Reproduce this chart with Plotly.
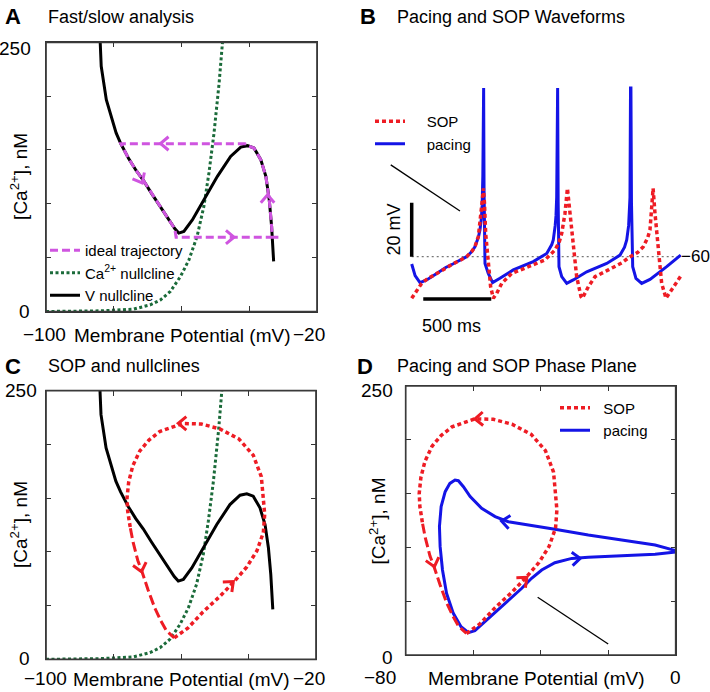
import math
import plotly.graph_objects as go

# ------------------------------------------------------------------ data
# V nullcline (panels A and C)  [mV, nM]
vnull_V = [-84.0, -83.7, -82.2, -80.7, -79.3, -77.9, -75.6, -73.4, -71.2, -68.7, -66.2, -63.8,
           -62.0, -60.8, -59.3, -56.8, -53.4, -49.4, -45.5, -42.5, -40.5, -38.6, -36.6, -35.1,
           -34.1, -33.4, -32.8]
vnull_Ca = [250, 227.7, 196.7, 181.3, 165.8, 155.8, 142, 131, 121.5, 109, 97.5, 85.5,
            77, 72.8, 74.3, 85, 103.8, 125.5, 144, 152.7, 154, 151.8, 141, 125.5,
            103.8, 79, 46.5]

# Ca2+ nullcline (panels A and C)
canull_V = [-100, -84, -74.1, -69.2, -66.2, -63.3, -60.3, -57.8, -55.4, -53.4, -51.9, -50.4, -48.9, -47.9]
canull_Ca = [0, 0.6, 2.2, 6.2, 10.8, 18.6, 32.5, 48, 69.7, 97.6, 128.6, 165.7, 212, 250]

# ideal fast/slow trajectory (panel A)
ideal_V = [-41.0, -77.9, -75.6, -73.4, -71.2, -68.7, -66.2, -63.8, -62.0, -61.6, -31.4, -33.2,
           -33.4, -34.1, -35.1, -36.6, -38.6, -40.5, -41.0]
ideal_Ca = [155.8, 155.8, 142, 131, 121.5, 109, 97.5, 85.5, 77, 69.0, 69.0, 69.0,
            79, 103.8, 125.5, 141, 151.8, 154, 155.8]

# SOP phase-plane loop (panels C and D)
sop_V = [-62.0, -58.0, -53.5, -48.5, -44.3, -40.5, -37.5, -35.6, -35.2, -35.6, -36.2, -38.6,
         -42.8, -48.5, -54.0, -59.5, -66.3, -69.5, -72.2, -74.3, -75.5, -76.0, -75.8, -75.0,
         -74.2, -72.8, -71.6, -69.8, -67.8, -66.0, -64.3, -62.0]
sop_Ca = [20.0, 29.0, 44.0, 58.5, 72.2, 86.0, 101.0, 118.0, 135.0, 152.0, 170.0, 190.0,
          205.0, 214.5, 219.0, 219.5, 212.0, 204.0, 194.0, 180.0, 165.0, 150.0, 138.0, 122.0,
          109.0, 92.0, 82.0, 65.0, 48.0, 36.0, 26.5, 20.0]
sop_fast_from = 23   # index where the fast (long-dash) down-stroke starts

# pacing phase-plane loop (panel D)
pace_V = [0.0, -6.1, -16.0, -25.9, -35.8, -43.7, -49.6, -53.5, -57.5, -60.9, -62.9, -64.4,
          -65.4, -66.9, -68.3, -69.5, -70.0, -69.8, -69.1, -67.9, -65.9, -63.6, -61.4, -59.5,
          -55.5, -50.6, -45.6, -42.7, -39.7, -35.8, -30.8, -25.9, -16.0, -6.1, 0.0]
pace_Ca = [97.0, 102.2, 106.9, 111.5, 116.8, 120.8, 123.9, 128.6, 136.3, 147.2, 156.4, 162.0,
           162.6, 159.5, 151.8, 137.9, 119.3, 100.7, 79.0, 57.3, 38.7, 26.3, 20.8, 22.6,
           34.1, 48.0, 62.0, 71.3, 79.0, 85.8, 89.8, 90.8, 92.0, 93.6, 95.7]

# waveforms (panel B)  time [ms], membrane potential [mV]
pace_t = [0, 25, 61, 110, 184, 250, 306, 360, 404, 440, 465, 490, 502, 512, 518, 523, 526, 529,
          532, 539, 563, 595, 649, 747, 894, 993, 1030, 1041, 1055, 1061, 1066, 1070, 1073, 1077,
          1083, 1103, 1140, 1188, 1287, 1434, 1532, 1565, 1581, 1595, 1600, 1605, 1609, 1612,
          1616, 1625, 1649, 1691, 1752, 1875, 1978]
pace_mV = [-62.7, -67.0, -69.6, -68.6, -66.2, -64.0, -62.6, -61.2, -60.0, -58.2, -56.3, -52.8,
           -50.1, -46.0, -41.0, -30.0, 2.5, 2.5, -35.0, -62.5, -66.2, -69.6, -68.0, -64.9, -61.8,
           -58.8, -55.5, -53.8, -48.5, -44.8, -38.0, 2.5, 2.5, -40.0, -63.7, -67.4, -69.9, -68.6,
           -65.6, -62.5, -59.4, -56.5, -53.8, -48.5, -44.8, -38.0, 2.5, 2.5, -40.0, -63.7, -68.0,
           -69.9, -68.4, -63.7, -59.4]
sop_t = [0, 40, 73, 110, 184, 250, 306, 360, 404, 440, 465, 490, 505, 515, 527, 535, 544, 564,
         580, 600, 625, 662, 735, 858, 980, 1054, 1085, 1103, 1127, 1145, 1164, 1189, 1213, 1245,
         1255, 1299, 1348, 1446, 1544, 1600, 1660, 1703, 1735, 1752, 1765, 1775, 1789, 1814,
         1838, 1870, 1912, 1978]
sop_mV = [-75.4, -72.5, -69.9, -68.4, -66.2, -64.0, -62.6, -61.2, -60.0, -58.2, -56.3, -52.5,
          -47.0, -41.0, -34.7, -40.0, -51.4, -63.7, -71.0, -75.4, -73.6, -69.9, -66.2, -63.7,
          -61.2, -57.5, -54.5, -51.4, -44.0, -34.7, -44.0, -57.5, -67.4, -74.8, -75.4, -71.1,
          -67.4, -64.9, -62.3, -60.2, -58.5, -56.3, -53.0, -50.1, -42.0, -34.7, -44.0, -57.5,
          -69.9, -75.4, -72.3, -67.2]
ref_level_mV = -60
ref_t_end = 1975
scalebar_mV = 20      # vertical scale bar
scalebar_ms = 500     # horizontal scale bar
scalebar_t0 = 85
scalebar_V0 = -75.7

# direction chevrons: position and screen direction (deg, y up)
arrA_V, arrA_Ca, arrA_dir = [-66.2, -71.6, -44.5, -34.6], [156.0, 119.5, 69.0, 108.4], [180, -62, 0, 90]
arrC_V, arrC_Ca, arrC_dir = [-60.8, -71.7, -44.5], [219.6, 81.6, 72.3], [180, -76, 42]
arrDs_V, arrDs_Ca, arrDs_dir = [-59.5, -71.5, -44.1], [219.3, 82.1, 72.2], [182, -75, 42]
arrDp_V, arrDp_Ca, arrDp_dir = [-51.6, -28.3], [124.5, 89.8], [172, 4]

# pointer lines present in the original artwork
ptrB_t, ptrB_mV = [-154, 355], [-26.0, -43.1]
ptrD_V, ptrD_Ca = [-40.9, -20.0], [53.6, 10.2]

# ------------------------------------------------------------------ style / layout
W, H = 710, 692
FONT = "Liberation Sans, Arial, Helvetica, sans-serif"
RED, BLUE, GREEN, MAG = "#ee1c24", "#1414e6", "#1b6b3a", "#cf55e0"
AX = "#333333"
NB = "\u00a0"

P = {  # pixel boxes: x0, x1, y0(top), y1(bottom)
    "A": (46, 317, 42.3, 311.5),
    "B": (377.7, 704.1, 81.2, 310.7),
    "C": (46, 316, 390.7, 659.3),
    "D": (405.7, 675.7, 386, 655),
}
RANGES = {
    "A": ([-100, -20], [0, 250]),
    "B": ([-250, 2150], [-80, 5]),
    "C": ([-100, -20], [0, 250]),
    "D": ([-80, 0], [0, 250]),
}
AXN = {"A": "", "B": "2", "C": "3", "D": "4"}


def dom(p):
    x0, x1, y0, y1 = P[p]
    return [x0 / W, x1 / W], [1 - y1 / H, 1 - y0 / H]


def chevrons(p, xs, ys, dirs, L=10.5, half=40):
    x0, x1, y0, y1 = P[p]
    (xa, xb), (ya, yb) = RANGES[p]
    sx = (x1 - x0) / (xb - xa)
    sy = (y1 - y0) / (yb - ya)
    X, Y = [], []
    for x, y, d in zip(xs, ys, dirs):
        a1 = math.radians(d + 180 - half)
        a2 = math.radians(d + 180 + half)
        X += [x + L * math.cos(a1) / sx, x, x + L * math.cos(a2) / sx, None]
        Y += [y + L * math.sin(a1) / sy, y, y + L * math.sin(a2) / sy, None]
    return X, Y


fig = go.Figure()


def add(p, **kw):
    n = AXN[p]
    fig.add_trace(go.Scatter(xaxis="x" + n, yaxis="y" + n, mode="lines", **kw))


# ---- panel A
add("A", x=canull_V, y=canull_Ca, name="Ca<sup>2+</sup> nullcline", legend="legend", legendrank=2,
    line=dict(color=GREEN, width=3, dash="3px,2.5px"))
add("A", x=vnull_V, y=vnull_Ca, name="V nullcline", legend="legend", legendrank=3,
    line=dict(color="black", width=3))
add("A", x=ideal_V, y=ideal_Ca, name="ideal trajectory", legend="legend", legendrank=1,
    line=dict(color=MAG, width=3, dash="8px,4px"))
cx, cy = chevrons("A", arrA_V, arrA_Ca, arrA_dir)
add("A", x=cx, y=cy, showlegend=False, line=dict(color=MAG, width=3))

# ---- panel B
add("B", x=[0, ref_t_end], y=[ref_level_mV, ref_level_mV], showlegend=False,
    line=dict(color="#777777", width=1.3, dash="2px,3px"))
add("B", x=ptrB_t, y=ptrB_mV, showlegend=False, line=dict(color="black", width=1.3))
add("B", x=[0, 0], y=[ref_level_mV, ref_level_mV + scalebar_mV], showlegend=False,
    line=dict(color="black", width=3.5))
add("B", x=[scalebar_t0, scalebar_t0 + scalebar_ms], y=[scalebar_V0, scalebar_V0], showlegend=False,
    line=dict(color="black", width=3.5))
add("B", x=pace_t, y=pace_mV, name=NB * 4 + "pacing", legend="legend2", legendrank=2,
    line=dict(color=BLUE, width=3))
add("B", x=sop_t, y=sop_mV, name=NB * 4 + "SOP", legend="legend2", legendrank=1,
    line=dict(color=RED, width=3.5, dash="4px,3px"))

# ---- panel C
add("C", x=canull_V, y=canull_Ca, showlegend=False, line=dict(color=GREEN, width=3, dash="3px,2.5px"))
add("C", x=vnull_V, y=vnull_Ca, showlegend=False, line=dict(color="black", width=3))
add("C", x=sop_V[:sop_fast_from + 1], y=sop_Ca[:sop_fast_from + 1], showlegend=False,
    line=dict(color=RED, width=3.5, dash="4px,3px"))
add("C", x=sop_V[sop_fast_from:], y=sop_Ca[sop_fast_from:], showlegend=False,
    line=dict(color=RED, width=3, dash="10px,4px"))
cx, cy = chevrons("C", arrC_V, arrC_Ca, arrC_dir)
add("C", x=cx, y=cy, showlegend=False, line=dict(color=RED, width=3))

# ---- panel D
add("D", x=ptrD_V, y=ptrD_Ca, showlegend=False, line=dict(color="black", width=1.3))
add("D", x=pace_V, y=pace_Ca, name=NB * 2 + "pacing", legend="legend3", legendrank=2,
    line=dict(color=BLUE, width=3))
add("D", x=sop_V[:sop_fast_from + 1], y=sop_Ca[:sop_fast_from + 1], name=NB * 2 + "SOP",
    legend="legend3", legendrank=1, line=dict(color=RED, width=3.5, dash="4px,3px"))
add("D", x=sop_V[sop_fast_from:], y=sop_Ca[sop_fast_from:], showlegend=False,
    line=dict(color=RED, width=3, dash="10px,4px"))
cx, cy = chevrons("D", arrDp_V, arrDp_Ca, arrDp_dir)
add("D", x=cx, y=cy, showlegend=False, line=dict(color=BLUE, width=3))
cx, cy = chevrons("D", arrDs_V, arrDs_Ca, arrDs_dir)
add("D", x=cx, y=cy, showlegend=False, line=dict(color=RED, width=3))

# ---- axes
lay = {}
shapes = []
ticks = {"A": ([-80, -60, -40], [50, 100, 150, 200]),
         "C": ([-80, -60, -40], [50, 100, 150, 200]),
         "D": ([-60, -40, -20], [50, 100, 150, 200])}
for p in "ABCD":
    n = AXN[p]
    dx, dy = dom(p)
    xr, yr = RANGES[p]
    common = dict(showgrid=False, zeroline=False, showticklabels=False, fixedrange=True)
    if p == "B":
        lay["xaxis" + n] = dict(domain=dx, range=xr, visible=False, anchor="y" + n, **common)
        lay["yaxis" + n] = dict(domain=dy, range=yr, visible=False, anchor="x" + n, **common)
    else:
        st = dict(showline=True, linecolor=AX, linewidth=1.3, mirror="ticks", ticks="inside",
                  ticklen=5, tickwidth=1.3, tickcolor=AX, **common)
        lay["xaxis" + n] = dict(domain=dx, range=xr, tickvals=ticks[p][0], anchor="y" + n, **st)
        lay["yaxis" + n] = dict(domain=dy, range=yr, tickvals=ticks[p][1], anchor="x" + n, **st)
        # explicit frame in paper coordinates (same place as the axis lines)
        shapes.append(dict(type="rect", xref="paper", yref="paper",
                           x0=dx[0], x1=dx[1], y0=dy[0], y1=dy[1],
                           line=dict(color="#3a3a3a", width=1.7),
                           fillcolor="rgba(0,0,0,0)", layer="above"))

ann = []


def text(t, x, y, size=19, xref="paper", yref="paper", xanchor="center", yanchor="middle",
         xshift=0, yshift=0, angle=0, bold=False):
    if bold:
        t = "<b>" + t + "</b>"
    ann.append(dict(text=t, x=x, y=y, xref=xref, yref=yref, xanchor=xanchor, yanchor=yanchor,
                    xshift=xshift, yshift=yshift, textangle=angle, showarrow=False,
                    font=dict(family=FONT, size=size, color="black")))


def px(xp, yp):
    return xp / W, 1 - yp / H


# panel letters & titles
for letter, lx, tx, ty, title in [("A", 3, 46, 17, "Fast/slow analysis"),
                                  ("B", 358, 395, 17, "Pacing and SOP Waveforms"),
                                  ("C", 3, 46, 366, "SOP and nullclines"),
                                  ("D", 355, 395, 366, "Pacing and SOP Phase Plane")]:
    text(letter, *px(lx, ty), size=22, xanchor="left", bold=True)
    text(title, *px(tx, ty), size=18, xanchor="left")

# tick labels and axis titles for A, C, D
tickcfg = {
    # xl: (value, text, xshift); xoff: px below axis; yl: (value, text, yshift, gap); ytx: title x px
    "A": dict(xl=[(-100, "−100", -2), (-20, "−20", -8)], xoff=22.5,
              yl=[(250, "250", -6, 13), (0, "0", 0, 14)], ytx=19),
    "C": dict(xl=[(-100, "−100", -1), (-20, "−20", -7)], xoff=19,
              yl=[(250, "250", 0, 7), (0, "0", 1, 14)], ytx=19),
    "D": dict(xl=[(-80, "−80", -26), (0, "0", 0)], xoff=22.5,
              yl=[(250, "250", -4, 11), (0, "0", -2, 11)], ytx=377),
}
for p, c in tickcfg.items():
    n = AXN[p]
    x0, x1, y0, y1 = P[p]
    for v, t, sh in c["xl"]:
        text(t, v, 0, xref="x" + n, yref="y%s domain" % n, xshift=sh, yshift=-c["xoff"])
    for v, t, sh, gap in c["yl"]:
        text(t, 0, v, xref="x%s domain" % n, yref="y" + n, xanchor="right", xshift=-gap, yshift=sh)
    text("Membrane Potential (mV)", 0.5, 0, xref="x%s domain" % n, yref="y%s domain" % n,
         xshift=(-5 if p == "D" else 0), yshift=-c["xoff"] - 1)
    text("[Ca<sup>2+</sup>], nM", *px(c["ytx"], (y0 + y1) / 2), angle=-90)

# panel B labels
text("−60", ref_t_end, ref_level_mV, xref="x2", yref="y2", xanchor="left", xshift=-1, size=17)
text("20 mV", 0, ref_level_mV + scalebar_mV / 2, xref="x2", yref="y2", angle=-90, xshift=-18, size=18)
text("500 ms", scalebar_t0 + scalebar_ms / 2 - 41, scalebar_V0, xref="x2", yref="y2",
     yanchor="top", yshift=-15, size=18)

legfont = dict(family=FONT, size=15, color="black")
legcommon = dict(bgcolor="rgba(0,0,0,0)", borderwidth=0, font=legfont, xanchor="left", yanchor="top",
                 traceorder="normal", itemwidth=30, tracegroupgap=0)
fig.update_layout(
    width=W, height=H, margin=dict(l=0, r=0, t=0, b=0), autosize=False,
    paper_bgcolor="white", plot_bgcolor="white",
    annotations=ann, shapes=shapes,
    legend=dict(x=45 / W, y=1 - 234 / H, **legcommon),
    legend2=dict(x=370 / W, y=1 - 105 / H, **legcommon),
    legend3=dict(x=555 / W, y=1 - 391.5 / H, **legcommon),
    **lay,
)
fig.write_html("out.html", config={"displayModeBar": False},
               post_script="document.body.style.margin='0px';document.body.style.padding='0px';")
